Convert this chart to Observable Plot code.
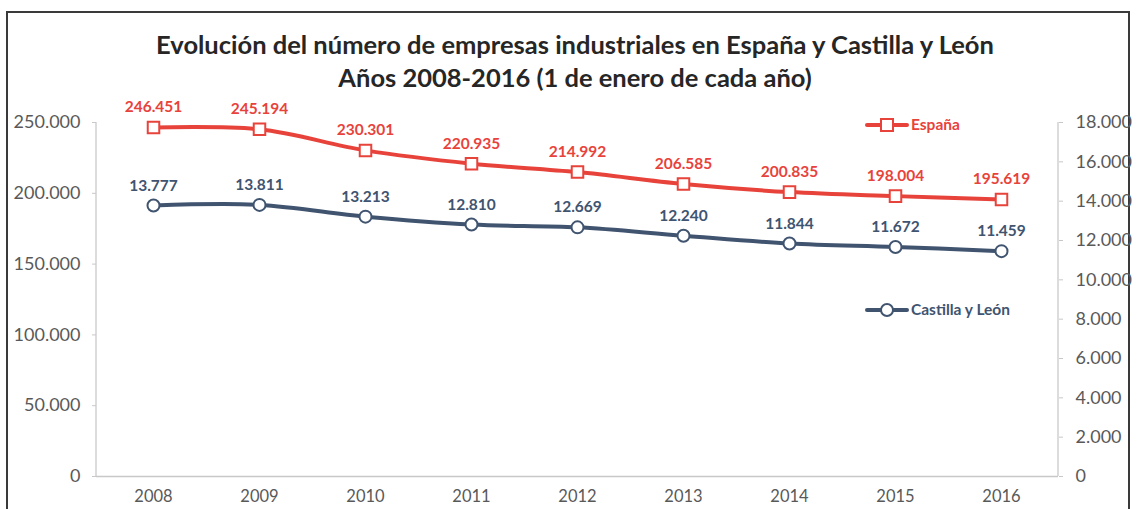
<!DOCTYPE html>
<html>
<head>
<meta charset="utf-8">
<script src="https://cdn.jsdelivr.net/npm/d3@7"></script>
<script src="https://cdn.jsdelivr.net/npm/@observablehq/plot@0.6"></script>
<style>
  html, body { margin: 0; padding: 0; background: #fff; }
  #page { position: relative; width: 1137px; height: 509px; overflow: hidden; background: #fff; }
  #box { position: absolute; left: 6px; top: 11px; width: 1124px; height: 520px; border: 2px solid #3a3a3a; box-sizing: border-box; }
  #title { position: absolute; left: 0; top: 28px; width: 1150px; text-align: center; font-family: Lato, "Open Sans", sans-serif; font-weight: bold; font-size: 25.5px; line-height: 33px; color: #262626; z-index: 2; }
  #chart { position: absolute; left: 0; top: 85px; }
</style>
</head>
<body>
<div id="page">
  <div id="box"></div>
  <div id="chart"></div>
  <div id="title">Evolución del número de empresas industriales en España y Castilla y León<br>Años 2008-2016 (1 de enero de cada año)</div>
</div>
<script>
const years = [2008, 2009, 2010, 2011, 2012, 2013, 2014, 2015, 2016];
const espana = [246451, 245194, 230301, 220935, 214992, 206585, 200835, 198004, 195619];
const castilla = [13777, 13811, 13213, 12810, 12669, 12240, 11844, 11672, 11459];
const leftTicks = [0, 50000, 100000, 150000, 200000, 250000];
const rightTicks = [0, 2000, 4000, 6000, 8000, 10000, 12000, 14000, 16000, 18000];
const seriesNames = ["España", "Castilla y León"];

const red = "#e8433b";
const blue = "#405470";
const k = 250000 / 18000;

const locale = d3.formatLocale({decimal: ",", thousands: ".", grouping: [3], currency: ["", " €"]});
const fmt = locale.format(",d");

const esData = years.map((y, i) => ({year: y, value: espana[i]}));
const clData = years.map((y, i) => ({year: y, value: castilla[i], scaled: castilla[i] * k}));

const font = "Lato, 'Open Sans', sans-serif";
const W = 1137, H = 424, ML = 96, MR = 79, MT = 37, MB = 33;

const plot = Plot.plot({
  width: W,
  height: H,
  marginLeft: ML,
  marginRight: MR,
  marginTop: MT,
  marginBottom: MB,
  style: {fontFamily: font, background: "transparent", overflow: "visible"},
  x: {type: "point", domain: years, padding: 0.5, label: null},
  y: {domain: [0, 250000], label: null},
  marks: [
    Plot.ruleY([0], {stroke: "#c8c8c8", strokeWidth: 1.5}),
    Plot.axisY({anchor: "left", ticks: leftTicks, tickFormat: fmt, tickSize: 4, tickPadding: 12, fontSize: 18, fill: "#595959", stroke: "#c8c8c8", label: null}),
    Plot.axisY({anchor: "right", ticks: rightTicks.map(v => v * k), tickFormat: d => fmt(Math.round(d / k)), tickSize: 4, tickPadding: 13, fontSize: 18, fill: "#595959", stroke: "#c8c8c8", label: null}),
    Plot.axisX({anchor: "bottom", tickSize: 0, tickPadding: 14, fontSize: 16.5, fill: "#595959", tickFormat: d => String(d), label: null}),
    Plot.line(esData, {x: "year", y: "value", stroke: red, strokeWidth: 4, curve: "catmull-rom"}),
    Plot.line(clData, {x: "year", y: "scaled", stroke: blue, strokeWidth: 4, curve: "catmull-rom"}),
    Plot.dot(esData, {x: "year", y: "value", symbol: "square", r: 6.5, fill: "white", stroke: red, strokeWidth: 2}),
    Plot.dot(clData, {x: "year", y: "scaled", symbol: "circle", r: 6, fill: "white", stroke: blue, strokeWidth: 2}),
    Plot.text(esData, {x: "year", y: "value", text: d => fmt(d.value), dy: -20, fill: red, fontWeight: "bold", fontSize: 15.5}),
    Plot.text(clData, {x: "year", y: "scaled", text: d => fmt(d.value), dy: -20, fill: blue, fontWeight: "bold", fontSize: 15.5})
  ]
});

const svg = d3.select(plot);
// vertical axis lines (left and right)
[ML, W - MR].forEach(x => {
  svg.insert("line", ":first-child").attr("x1", x).attr("x2", x).attr("y1", MT).attr("y2", H - MB)
    .attr("stroke", "#d0d0d0").attr("stroke-width", 1.5);
});

// Legend (inside plot area, Excel-style)
const legend = [
  {name: seriesNames[0], color: red, symbol: "square", y: 40},
  {name: seriesNames[1], color: blue, symbol: "circle", y: 225}
];
legend.forEach(l => {
  const g = svg.append("g").attr("transform", `translate(867,${l.y})`);
  g.append("line").attr("x1", 0).attr("x2", 40).attr("y1", 0).attr("y2", 0)
    .attr("stroke", l.color).attr("stroke-width", 4).attr("stroke-linecap", "round");
  if (l.symbol === "square") {
    g.append("rect").attr("x", 14).attr("y", -6).attr("width", 12).attr("height", 12)
      .attr("fill", "white").attr("stroke", l.color).attr("stroke-width", 2);
  } else {
    g.append("circle").attr("cx", 20).attr("cy", 0).attr("r", 6)
      .attr("fill", "white").attr("stroke", l.color).attr("stroke-width", 2);
  }
  g.append("text").attr("x", 44).attr("y", 0).attr("dy", "0.35em").attr("text-anchor", "start")
    .attr("fill", l.color).attr("font-weight", "bold").attr("font-size", 15.5)
    .attr("font-family", font).text(l.name);
});

document.getElementById("chart").appendChild(plot);
</script>
</body>
</html>
